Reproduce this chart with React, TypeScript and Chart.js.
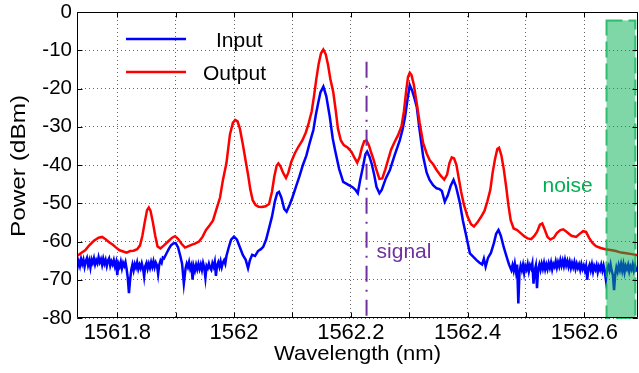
import { useEffect, useRef } from "react";
import { Chart, registerables } from "chart.js";

Chart.register(...registerables);

// ---------------- data ----------------
const inputWavelength = [
  1561.730, 1561.732, 1561.734, 1561.736, 1561.738, 1561.740, 1561.742, 1561.744, 1561.746, 1561.748,
  1561.750, 1561.752, 1561.754, 1561.756, 1561.758, 1561.760, 1561.762, 1561.764, 1561.766, 1561.768,
  1561.770, 1561.772, 1561.774, 1561.776, 1561.778, 1561.780, 1561.782, 1561.784, 1561.786, 1561.788,
  1561.790, 1561.792, 1561.794, 1561.796, 1561.798, 1561.800, 1561.802, 1561.804, 1561.806, 1561.808,
  1561.810, 1561.812, 1561.814, 1561.816, 1561.818, 1561.820, 1561.822, 1561.824, 1561.826, 1561.828,
  1561.830, 1561.832, 1561.834, 1561.836, 1561.838, 1561.840, 1561.842, 1561.844, 1561.846, 1561.848,
  1561.850, 1561.852, 1561.854, 1561.856, 1561.858, 1561.860, 1561.862, 1561.864, 1561.866, 1561.868,
  1561.870, 1561.872, 1561.874, 1561.876, 1561.878, 1561.880, 1561.884, 1561.888, 1561.892, 1561.896,
  1561.900, 1561.904, 1561.908, 1561.911, 1561.914, 1561.917, 1561.919, 1561.921, 1561.923, 1561.925,
  1561.927, 1561.929, 1561.931, 1561.933, 1561.935, 1561.937, 1561.939, 1561.941, 1561.943, 1561.945,
  1561.947, 1561.949, 1561.951, 1561.953, 1561.955, 1561.957, 1561.959, 1561.961, 1561.963, 1561.965,
  1561.967, 1561.969, 1561.971, 1561.973, 1561.975, 1561.977, 1561.979, 1561.981, 1561.983, 1561.985,
  1561.987, 1561.991, 1561.995, 1562.000, 1562.005, 1562.010, 1562.015, 1562.020, 1562.024, 1562.027,
  1562.031, 1562.036, 1562.041, 1562.046, 1562.050, 1562.055, 1562.060, 1562.065, 1562.070, 1562.074,
  1562.077, 1562.081, 1562.086, 1562.090, 1562.095, 1562.100, 1562.106, 1562.112, 1562.118, 1562.124,
  1562.130, 1562.136, 1562.140, 1562.144, 1562.148, 1562.153, 1562.158, 1562.164, 1562.169, 1562.173,
  1562.180, 1562.187, 1562.196, 1562.203, 1562.208, 1562.212, 1562.216, 1562.221, 1562.225, 1562.228,
  1562.232, 1562.236, 1562.240, 1562.244, 1562.249, 1562.253, 1562.260, 1562.267, 1562.275, 1562.284,
  1562.289, 1562.293, 1562.297, 1562.301, 1562.305, 1562.309, 1562.313, 1562.318, 1562.324, 1562.330,
  1562.335, 1562.341, 1562.347, 1562.352, 1562.356, 1562.361, 1562.366, 1562.371, 1562.376, 1562.380,
  1562.384, 1562.387, 1562.392, 1562.398, 1562.404, 1562.410, 1562.415, 1562.420, 1562.425, 1562.428,
  1562.431, 1562.435, 1562.440, 1562.445, 1562.449, 1562.453, 1562.457, 1562.462, 1562.467, 1562.471,
  1562.475, 1562.477, 1562.479, 1562.481, 1562.483, 1562.485, 1562.487, 1562.489, 1562.491, 1562.493,
  1562.495, 1562.497, 1562.499, 1562.501, 1562.503, 1562.505, 1562.507, 1562.509, 1562.511, 1562.513,
  1562.515, 1562.517, 1562.519, 1562.521, 1562.523, 1562.525, 1562.527, 1562.529, 1562.531, 1562.533,
  1562.535, 1562.537, 1562.539, 1562.541, 1562.543, 1562.545, 1562.547, 1562.549, 1562.551, 1562.553,
  1562.555, 1562.557, 1562.559, 1562.561, 1562.563, 1562.565, 1562.567, 1562.569, 1562.571, 1562.573,
  1562.575, 1562.577, 1562.579, 1562.581, 1562.583, 1562.585, 1562.587, 1562.589, 1562.591, 1562.593,
  1562.595, 1562.597, 1562.599, 1562.601, 1562.603, 1562.605, 1562.607, 1562.609, 1562.611, 1562.613,
  1562.615, 1562.617, 1562.619, 1562.621, 1562.623, 1562.625, 1562.627, 1562.629, 1562.631, 1562.633,
  1562.635, 1562.637, 1562.639, 1562.641, 1562.643, 1562.645, 1562.647, 1562.649, 1562.651, 1562.653,
  1562.655, 1562.657, 1562.659, 1562.661, 1562.663, 1562.665, 1562.667, 1562.669, 1562.671, 1562.673,
  1562.675, 1562.677, 1562.679, 1562.681, 1562.683, 1562.685, 1562.687, 1562.689, 1562.692,
];
const inputPower = [
  -68.3, -66.5, -65.2, -66.4, -64.6, -65.9, -64.8, -66.6, -65.1, -64.3,
  -66.2, -65.0, -66.8, -64.7, -65.6, -64.4, -66.0, -64.9, -65.7, -64.1,
  -65.4, -64.6, -66.1, -64.5, -65.8, -64.8, -66.4, -65.0, -64.4, -66.3,
  -65.2, -66.0, -64.9, -66.5, -65.4, -68.8, -65.8, -66.6, -65.3, -67.0,
  -65.6, -66.4, -65.4, -67.2, -69.5, -73.5, -70.0, -67.4, -66.0, -67.5,
  -65.9, -66.8, -65.5, -67.2, -66.1, -67.0, -65.7, -66.9, -69.2, -66.4,
  -65.6, -67.1, -65.8, -66.9, -65.4, -66.6, -65.2, -66.7, -65.5, -66.2,
  -68.5, -66.0, -65.0, -65.6, -64.2, -64.4, -63.2, -62.0, -61.0, -60.5,
  -60.4, -61.5, -63.8, -65.8, -71.0, -67.0, -65.8, -66.7, -65.4, -67.1,
  -66.2, -70.0, -66.5, -67.6, -66.1, -67.3, -65.9, -67.2, -66.0, -67.4,
  -65.6, -66.8, -69.5, -66.4, -67.0, -65.8, -66.9, -67.4, -65.7, -66.6,
  -65.3, -69.0, -66.2, -65.4, -66.6, -65.2, -66.7, -65.5, -64.9, -65.8,
  -63.8, -61.5, -59.5, -58.7, -59.5, -61.5, -63.5, -64.8, -67.0, -65.0,
  -63.5, -63.8, -62.5, -62.0, -61.4, -59.5, -56.5, -53.5, -49.5, -47.3,
  -47.0, -48.5, -51.5, -52.2, -50.5, -48.5, -45.7, -43.0, -40.0, -37.5,
  -34.0, -30.8, -27.0, -23.9, -21.0, -19.5, -22.0, -27.4, -33.0, -36.1,
  -41.0, -44.4, -45.2, -45.8, -46.5, -47.4, -44.0, -40.4, -37.2, -36.5,
  -37.8, -39.8, -42.5, -45.7, -47.4, -46.5, -43.5, -41.3, -37.5, -33.5,
  -30.5, -27.4, -23.0, -19.1, -20.5, -22.5, -24.8, -31.0, -37.8, -42.0,
  -43.9, -45.3, -46.1, -46.3, -46.8, -49.6, -48.0, -45.5, -43.9, -45.5,
  -48.0, -50.0, -54.5, -58.7, -63.1, -64.0, -64.8, -65.5, -66.0, -64.5,
  -66.6, -64.3, -63.0, -60.5, -58.0, -57.0, -58.5, -61.5, -64.0, -66.0,
  -67.5, -66.2, -67.6, -65.8, -67.9, -66.0, -76.2, -68.0, -66.3, -67.5,
  -66.1, -68.2, -66.4, -67.3, -65.9, -67.8, -66.2, -67.0, -65.7, -71.0,
  -67.6, -66.3, -72.2, -67.2, -66.0, -67.4, -65.8, -67.1, -65.6, -67.3,
  -66.0, -67.2, -65.7, -66.9, -65.5, -67.3, -65.9, -66.6, -65.2, -66.8,
  -65.4, -66.5, -64.9, -66.3, -65.0, -66.4, -64.8, -66.2, -65.1, -66.6,
  -65.3, -66.9, -65.6, -66.7, -65.4, -67.1, -65.8, -66.9, -66.0, -67.4,
  -65.9, -67.2, -66.3, -67.6, -66.4, -70.0, -67.0, -66.1, -67.5, -66.0,
  -67.9, -66.4, -67.3, -66.2, -68.0, -66.5, -67.4, -66.1, -67.6, -66.3,
  -67.8, -70.0, -67.2, -66.4, -67.5, -66.0, -67.7, -68.8, -72.7, -68.6,
  -66.8, -67.9, -66.2, -67.4, -65.9, -67.6, -66.0, -68.0, -66.4, -67.2,
  -66.1, -67.8, -66.5, -67.3, -66.0, -67.6, -66.4, -67.5, -67.0,
];

const outputWavelength = [
  1561.731, 1561.738, 1561.745, 1561.752, 1561.760, 1561.768, 1561.774, 1561.780, 1561.786, 1561.792,
  1561.798, 1561.804, 1561.810, 1561.816, 1561.822, 1561.828, 1561.834, 1561.839, 1561.843, 1561.847,
  1561.851, 1561.854, 1561.857, 1561.861, 1561.865, 1561.869, 1561.874, 1561.880, 1561.887, 1561.894,
  1561.899, 1561.904, 1561.910, 1561.916, 1561.922, 1561.928, 1561.934, 1561.940, 1561.946, 1561.952,
  1561.958, 1561.964, 1561.970, 1561.976, 1561.981, 1561.987, 1561.993, 1561.998, 1562.002, 1562.006,
  1562.010, 1562.015, 1562.020, 1562.024, 1562.028, 1562.032, 1562.037, 1562.042, 1562.048, 1562.054,
  1562.060, 1562.065, 1562.069, 1562.073, 1562.076, 1562.080, 1562.084, 1562.089, 1562.093, 1562.098,
  1562.104, 1562.110, 1562.117, 1562.123, 1562.128, 1562.133, 1562.137, 1562.141, 1562.145, 1562.149,
  1562.153, 1562.157, 1562.161, 1562.165, 1562.170, 1562.174, 1562.178, 1562.183, 1562.188, 1562.195,
  1562.201, 1562.206, 1562.211, 1562.215, 1562.219, 1562.223, 1562.227, 1562.231, 1562.235, 1562.239,
  1562.244, 1562.249, 1562.254, 1562.259, 1562.264, 1562.269, 1562.275, 1562.281, 1562.287, 1562.291,
  1562.295, 1562.298, 1562.301, 1562.304, 1562.308, 1562.313, 1562.318, 1562.324, 1562.330, 1562.335,
  1562.341, 1562.347, 1562.354, 1562.360, 1562.365, 1562.369, 1562.373, 1562.377, 1562.381, 1562.385,
  1562.389, 1562.394, 1562.400, 1562.406, 1562.411, 1562.417, 1562.423, 1562.429, 1562.434, 1562.439,
  1562.443, 1562.447, 1562.451, 1562.454, 1562.458, 1562.462, 1562.466, 1562.470, 1562.474, 1562.479,
  1562.485, 1562.491, 1562.497, 1562.503, 1562.509, 1562.514, 1562.519, 1562.524, 1562.528, 1562.532,
  1562.537, 1562.542, 1562.548, 1562.553, 1562.559, 1562.564, 1562.570, 1562.578, 1562.586, 1562.592,
  1562.598, 1562.603, 1562.608, 1562.614, 1562.620, 1562.628, 1562.636, 1562.645, 1562.654, 1562.663,
  1562.672, 1562.681, 1562.692,
];
const outputPower = [
  -63.8, -63.0, -62.3, -61.0, -59.8, -59.0, -58.8, -59.4, -60.2, -60.8,
  -61.6, -62.3, -62.6, -62.9, -62.5, -62.4, -62.0, -61.0, -58.5, -55.0,
  -51.8, -51.1, -52.0, -55.0, -58.5, -61.3, -61.8, -61.0, -60.0, -59.0,
  -58.6, -59.3, -60.6, -61.6, -61.2, -60.8, -60.5, -60.0, -58.8, -57.0,
  -55.8, -54.5, -51.5, -48.5, -43.9, -39.5, -32.0, -29.0, -28.2, -28.6,
  -30.5, -34.5, -39.0, -42.5, -46.5, -49.2, -50.5, -50.9, -51.0, -50.8,
  -50.2, -47.0, -43.0, -40.2, -39.6, -40.5, -42.0, -43.4, -42.0, -39.2,
  -37.0, -35.3, -33.6, -31.5, -29.0, -26.0, -22.0, -17.5, -13.5, -10.8,
  -9.8, -11.0, -13.8, -17.5, -21.0, -25.5, -30.5, -33.6, -34.8, -35.5,
  -36.5, -38.0, -39.4, -38.0, -35.5, -33.8, -33.6, -34.8, -36.8, -38.6,
  -41.3, -43.6, -43.5, -41.2, -38.6, -36.0, -34.0, -32.2, -29.8, -26.0,
  -20.5, -17.0, -15.9, -16.5, -19.0, -23.9, -29.0, -34.3, -37.0, -38.7,
  -39.8, -41.3, -42.8, -43.8, -42.5, -39.5, -38.0, -38.3, -40.0, -43.5,
  -47.0, -50.5, -53.5, -55.5, -56.1, -55.0, -53.6, -52.0, -49.5, -46.5,
  -42.0, -38.5, -35.8, -35.5, -37.5, -41.0, -45.5, -50.5, -54.5, -56.6,
  -57.0, -57.8, -58.6, -59.2, -59.4, -58.6, -57.5, -55.6, -55.3, -56.8,
  -58.8, -59.5, -59.0, -57.8, -57.0, -56.8, -57.5, -58.5, -58.8, -58.0,
  -57.3, -57.5, -59.0, -60.4, -61.2, -61.7, -62.0, -62.2, -62.5, -62.9,
  -63.1, -63.3, -63.6,
];

const xTicks = [1561.8, 1561.9, 1562.0, 1562.1, 1562.2, 1562.3, 1562.4, 1562.5, 1562.6];
const xTickLabels = ["1561.8", "", "1562", "", "1562.2", "", "1562.4", "", "1562.6"];
const xRange = [1561.731, 1562.692];
const yRange = [-80, 0];
const seriesNames = ["Input", "Output"];
const xTitle = "Wavelength (nm)";
const yTitle = "Power (dBm)";
const signalWavelength = 1562.227;
const signalTopPower = -13;
const noiseBandWavelength = [1562.638, 1562.6875];
const noiseBandTopPower = -2.2;
const signalLabelAt = [1562.2442, -64.4];
const noiseLabelAt = [1562.5284, -47.0];

// ---------------- styles ----------------
const FONT = '"Liberation Sans", Arial, Helvetica, sans-serif';
const BLUE = "#0000ff";
const RED = "#ff0000";
const PURPLE = "#7030a0";
const GREEN = "#00b050";

const overlayPlugin = {
  id: "overlay",
  afterDatasetsDraw(chart: any) {
    const { ctx, chartArea: a, scales } = chart;
    const x = scales.x;
    const y = scales.y;
    ctx.save();

    // noise band
    const nx0 = x.getPixelForValue(noiseBandWavelength[0]);
    const nx1 = x.getPixelForValue(noiseBandWavelength[1]);
    const ny0 = y.getPixelForValue(noiseBandTopPower);
    const ny1 = y.getPixelForValue(yRange[0]);
    ctx.fillStyle = "rgba(0,176,80,0.5)";
    ctx.fillRect(nx0, ny0, nx1 - nx0, ny1 - ny0);
    ctx.strokeStyle = "rgba(0,176,80,0.75)";
    ctx.lineWidth = 2;
    ctx.setLineDash([16, 6]);
    ctx.strokeRect(nx0, ny0, nx1 - nx0, ny1 - ny0);

    // signal line
    const sx = x.getPixelForValue(signalWavelength);
    ctx.strokeStyle = PURPLE;
    ctx.lineWidth = 2;
    ctx.setLineDash([16, 8, 2, 8]);
    ctx.beginPath();
    ctx.moveTo(sx, y.getPixelForValue(signalTopPower));
    ctx.lineTo(sx, y.getPixelForValue(yRange[0]));
    ctx.stroke();
    ctx.setLineDash([]);

    // frame + inward ticks
    ctx.strokeStyle = "#000";
    ctx.lineWidth = 1;
    const L = Math.round(a.left) + 0.5;
    const R = Math.round(a.right) - 0.5;
    const T = Math.round(a.top) + 0.5;
    const B = Math.round(a.bottom) - 0.5;
    ctx.beginPath();
    ctx.moveTo(L, T); ctx.lineTo(R, T); ctx.lineTo(R, B); ctx.lineTo(L, B); ctx.closePath();
    xTicks.forEach((v) => {
      const px = Math.round(x.getPixelForValue(v)) + 0.5;
      ctx.moveTo(px, B); ctx.lineTo(px, B - 5);
      ctx.moveTo(px, T); ctx.lineTo(px, T + 5);
    });
    for (let v = yRange[0]; v <= yRange[1]; v += 10) {
      const py = Math.round(y.getPixelForValue(v)) + 0.5;
      ctx.moveTo(L, py); ctx.lineTo(L + 5, py);
      ctx.moveTo(R, py); ctx.lineTo(R - 5, py);
    }
    ctx.stroke();

    // annotations
    ctx.font = `21px ${FONT}`;
    ctx.textBaseline = "alphabetic";
    ctx.textAlign = "left";
    ctx.fillStyle = PURPLE;
    ctx.fillText("signal", x.getPixelForValue(signalLabelAt[0]), y.getPixelForValue(signalLabelAt[1]));
    ctx.fillStyle = GREEN;
    ctx.fillText("noise", x.getPixelForValue(noiseLabelAt[0]), y.getPixelForValue(noiseLabelAt[1]));

    // legend
    const colors = [BLUE, RED];
    const lineX0 = a.left + 49;
    const lineX1 = a.left + 109;
    const rows = [a.top + 27, a.top + 60];
    const textX = [a.left + 139, a.left + 126];
    seriesNames.forEach((name, i) => {
      ctx.strokeStyle = colors[i];
      ctx.lineWidth = 2.5;
      ctx.beginPath();
      ctx.moveTo(lineX0, rows[i]);
      ctx.lineTo(lineX1, rows[i]);
      ctx.stroke();
      ctx.fillStyle = "#000";
      ctx.fillText(name, textX[i], rows[i] + 7.5);
    });

    // axis titles (slightly widened, like the reference rendering)
    ctx.fillStyle = "#000";
    ctx.textAlign = "center";
    ctx.save();
    ctx.translate((a.left + a.right) / 2, a.bottom + 41.7);
    ctx.scale(1.05, 1);
    ctx.fillText(xTitle, 0, 0);
    ctx.restore();
    ctx.save();
    ctx.translate(a.left - 52, (a.top + a.bottom) / 2 + 1);
    ctx.rotate(-Math.PI / 2);
    ctx.scale(1.16, 1);
    ctx.fillText(yTitle, 0, 0);
    ctx.restore();

    ctx.restore();
  },
};

export default function App() {
  const canvasRef = useRef<HTMLCanvasElement | null>(null);

  useEffect(() => {
    const canvas = canvasRef.current;
    if (!canvas) return;
    const chart = new Chart(canvas, {
      type: "line",
      data: {
        datasets: [
          {
            label: seriesNames[1],
            data: outputWavelength.map((w, i) => ({ x: w, y: outputPower[i] })),
            borderColor: RED,
            borderWidth: 2.5,
            pointRadius: 0,
            tension: 0,
            order: 0,
          },
          {
            label: seriesNames[0],
            data: inputWavelength.map((w, i) => ({ x: w, y: inputPower[i] })),
            borderColor: BLUE,
            borderWidth: 2.5,
            pointRadius: 0,
            tension: 0,
            order: 1,
          },
        ],
      },
      options: {
        responsive: false,
        animation: false,
        devicePixelRatio: 1,
        layout: { padding: { top: 12, right: 1, left: 0, bottom: 0 } },
        plugins: {
          legend: { display: false },
          tooltip: { enabled: false },
        },
        scales: {
          x: {
            type: "linear",
            min: xRange[0],
            max: xRange[1],
            afterBuildTicks: (scale: any) => {
              scale.ticks = xTicks.map((v) => ({ value: v }));
            },
            afterFit: (scale: any) => {
              scale.height = 55;
              scale.paddingLeft = 0;
              scale.paddingRight = 0;
            },
            grid: { color: "rgba(0,0,0,0.6)", lineWidth: 1, drawTicks: false },
            border: { display: false, dash: [1, 3] },
            ticks: {
              autoSkip: false,
              maxRotation: 0,
              padding: 2,
              color: "#000",
              font: { family: FONT, size: 22 },
              callback: (value: any) => {
                const i = xTicks.findIndex((t) => Math.abs(t - Number(value)) < 1e-6);
                return i >= 0 ? xTickLabels[i] : "";
              },
            },
            title: { display: false },
          },
          y: {
            type: "linear",
            min: yRange[0],
            max: yRange[1],
            afterFit: (scale: any) => {
              scale.width = 77;
              scale.paddingTop = 0;
              scale.paddingBottom = 0;
            },
            grid: { color: "rgba(0,0,0,0.6)", lineWidth: 1, drawTicks: false },
            border: { display: false, dash: [1, 3] },
            ticks: {
              stepSize: 10,
              padding: 5,
              color: "#000",
              font: { family: FONT, size: 20.5 },
              callback: (value: any) => String(value),
            },
            title: { display: false },
          },
        },
      },
      plugins: [overlayPlugin],
    });
    return () => chart.destroy();
  }, []);

  return (
    <div style={{ position: "fixed", left: 0, top: 0, width: 639, height: 373, background: "#fff" }}>
      <canvas ref={canvasRef} width={639} height={373} style={{ display: "block" }} />
    </div>
  );
}
